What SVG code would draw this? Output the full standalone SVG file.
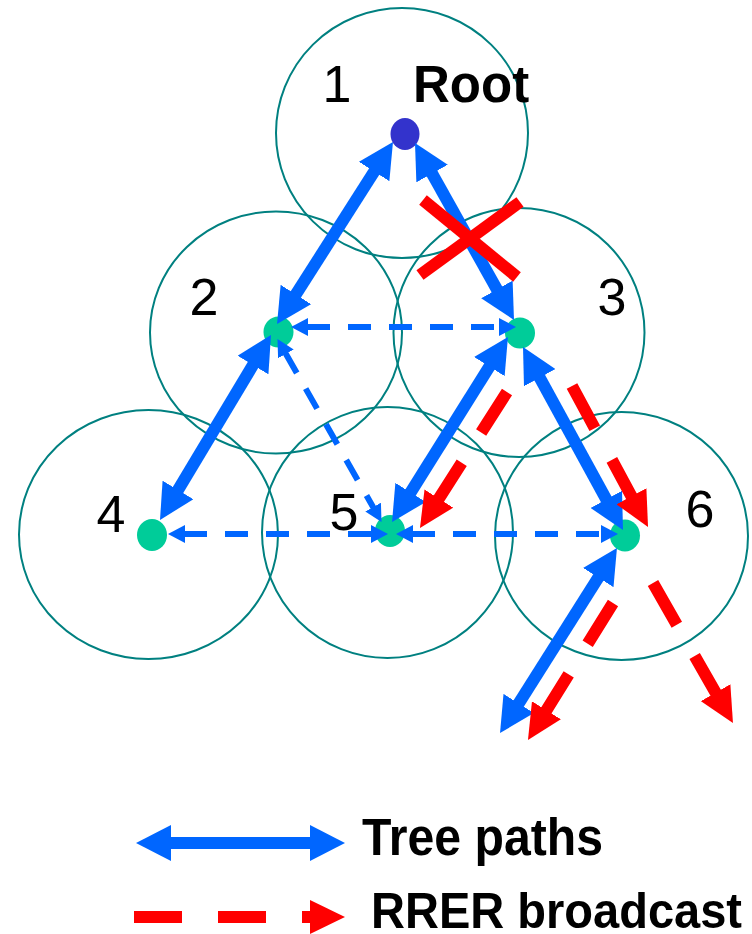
<svg xmlns="http://www.w3.org/2000/svg" width="752" height="934" viewBox="0 0 752 934">
  <style>
    .range { fill: none; stroke: #008080; stroke-width: 2; }
    .dot { fill: #00CC99; }
    .num { font-family: "Liberation Sans", Arial, sans-serif; font-size: 52px; fill: #000; text-anchor: middle; }
    .bold { font-family: "Liberation Sans", Arial, sans-serif; font-weight: bold; fill: #000; }
    .tree { stroke: #0066FF; stroke-width: 12; fill: none; marker-start: url(#bh); marker-end: url(#bh); }
    .link { stroke: #0066FF; stroke-width: 6; fill: none; stroke-dasharray: 23 18; marker-start: url(#sh); marker-end: url(#sh); }
    .rrer { stroke: #FF0000; stroke-width: 12; fill: none; stroke-dasharray: 48 36; marker-end: url(#rh); }
  </style>
  <defs>
    <marker id="bh" markerUnits="userSpaceOnUse" viewBox="0 0 36 36" markerWidth="36" markerHeight="36" refX="1" refY="18" orient="auto-start-reverse">
      <path d="M0,0 L35,18 L0,36 z" fill="#0066FF"/>
    </marker>
    <marker id="sh" markerUnits="userSpaceOnUse" viewBox="0 0 18 18" markerWidth="18" markerHeight="18" refX="1" refY="9" orient="auto-start-reverse">
      <path d="M0,0 L17,9 L0,18 z" fill="#0066FF"/>
    </marker>
    <marker id="rh" markerUnits="userSpaceOnUse" viewBox="0 0 36 34" markerWidth="36" markerHeight="34" refX="1" refY="17" orient="auto">
      <path d="M0,0 L35,17 L0,34 z" fill="#FF0000"/>
    </marker>
  </defs>

  <g id="node1">
    <ellipse class="range" cx="402" cy="133" rx="126" ry="125"/>
    <ellipse cx="405" cy="134" rx="14.5" ry="16" fill="#3333CC"/>
    <text class="num" x="337" y="102">1</text>
    <text class="bold" x="413" y="102" font-size="51">Root</text>
  </g>
  <g id="node2">
    <ellipse class="range" cx="276" cy="332.5" rx="126" ry="121"/>
    <ellipse class="dot" cx="278.5" cy="332" rx="15" ry="15.5"/>
    <text class="num" x="204" y="315">2</text>
  </g>
  <g id="node3">
    <ellipse class="range" cx="519" cy="332.5" rx="125.5" ry="124.5"/>
    <ellipse class="dot" cx="520" cy="333" rx="15" ry="15.5"/>
    <text class="num" x="612" y="315">3</text>
  </g>
  <g id="node4">
    <ellipse class="range" cx="148.5" cy="534.5" rx="129.5" ry="124.5"/>
    <ellipse class="dot" cx="152" cy="535" rx="15" ry="16"/>
    <text class="num" x="111" y="532">4</text>
  </g>
  <g id="node5">
    <ellipse class="range" cx="387.5" cy="532.5" rx="125.5" ry="125.5"/>
    <ellipse class="dot" cx="390" cy="531" rx="15" ry="16"/>
    <text class="num" x="344" y="530">5</text>
  </g>
  <g id="node6">
    <ellipse class="range" cx="621.5" cy="536" rx="126.5" ry="124"/>
    <ellipse class="dot" cx="625" cy="535.5" rx="15" ry="16"/>
    <text class="num" x="700" y="527">6</text>
  </g>

  <g id="connectors">
    <!-- neighbour links (dashed blue) -->
    <line class="link" x1="307" y1="327" x2="500" y2="327"/>
    <line class="link" x1="184" y1="534" x2="372" y2="534"/>
    <line class="link" x1="412" y1="534" x2="602" y2="534"/>
    <line class="link" x1="285.4" y1="353" x2="373.6" y2="508"/>
    <!-- tree paths (thick blue) -->
    <line class="tree" x1="374.7" y1="170.7" x2="295.3" y2="295.3"/>
    <line class="tree" x1="253.5" y1="364.2" x2="177.5" y2="490.8"/>
    <line class="tree" x1="431.6" y1="172.7" x2="497.4" y2="290.3"/>
    <line class="tree" x1="489.9" y1="365.8" x2="410.1" y2="493.2"/>
    <line class="tree" x1="539.3" y1="376.8" x2="606.7" y2="500.2"/>
    <line class="tree" x1="598.8" y1="576.7" x2="518.2" y2="704.3"/>
    <!-- broken link -->
    <g id="break" stroke="#FF0000" stroke-width="12">
      <line x1="423" y1="200" x2="517" y2="277"/>
      <line x1="520" y1="202" x2="420" y2="275"/>
    </g>
    <!-- RRER broadcast (dashed red) -->
    <line class="rrer" x1="507" y1="392" x2="438.3" y2="499.4"/>
    <line class="rrer" x1="572" y1="386" x2="631.9" y2="497.1"/>
    <line class="rrer" x1="613" y1="603" x2="545.9" y2="711.1"/>
    <line class="rrer" x1="653" y1="583" x2="716.1" y2="693.5"/>
  </g>

  <g id="legend">
    <line class="tree" x1="170" y1="843" x2="311" y2="843"/>
    <text class="bold" x="362" y="855" font-size="51" textLength="241" lengthAdjust="spacingAndGlyphs">Tree paths</text>
    <line class="rrer" x1="134" y1="917" x2="311" y2="917"/>
    <text class="bold" x="371" y="928" font-size="50" textLength="371" lengthAdjust="spacingAndGlyphs">RRER broadcast</text>
  </g>
</svg>
